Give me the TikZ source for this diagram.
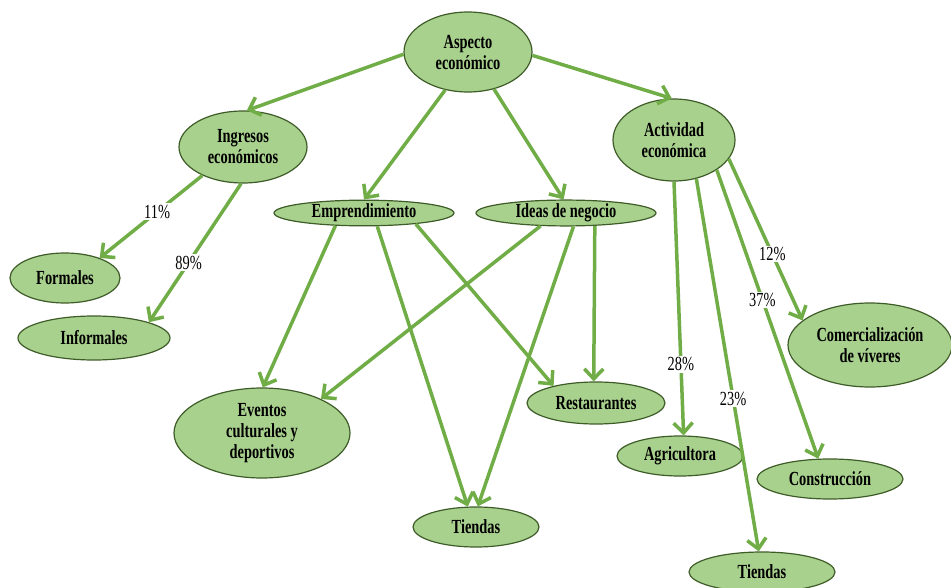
\documentclass[tikz,border=0pt]{standalone}
\usepackage{fontspec}
\setmainfont{Liberation Serif}[FakeStretch=0.72]
\usetikzlibrary{shapes.geometric,arrows.meta}
\definecolor{ovalfill}{RGB}{169,209,142}
\definecolor{ovalline}{RGB}{62,92,40}
\definecolor{linkgreen}{RGB}{112,173,71}
\begin{document}
\begin{tikzpicture}[x=1pt, y=-1pt, >={Straight Barb[length=10pt,width=19pt]},
    idea/.style={ellipse, draw=ovalline, fill=ovalfill, line width=1.2pt, inner sep=0pt, align=center,
        font=\fontsize{20}{21}\selectfont\bfseries},
    link/.style={->, draw=linkgreen, line width=3.5pt},
    pct/.style={fill=white, inner sep=1.5pt, font=\fontsize{20}{21}\selectfont}]
    \useasboundingbox (0,0) rectangle (951,588);
    % nodes
    \node[idea, minimum width=128pt, minimum height=80pt] (asp) at (468,52) {Aspecto\\econ\'omico};
    \node[idea, minimum width=128pt, minimum height=72pt] (ing) at (243,147) {Ingresos\\econ\'omicos};
    \node[idea, minimum width=122pt, minimum height=82pt] (act) at (674,140) {Actividad\\econ\'omica};
    \node[idea, minimum width=180pt, minimum height=22pt] (emp) at (364,213) {Emprendimiento};
    \node[idea, minimum width=180pt, minimum height=22pt] (neg) at (566,213) {Ideas de negocio};
    \node[idea, minimum width=110pt, minimum height=50pt] (form) at (65,278) {Formales};
    \node[idea, minimum width=152pt, minimum height=44pt] (inf) at (94,338) {Informales};
    \node[idea, minimum width=176pt, minimum height=90pt] (evt) at (262,433) {Eventos\\culturales y\\deportivos};
    \node[idea, minimum width=138pt, minimum height=42pt] (rest) at (596,403) {Restaurantes};
    \node[idea, minimum width=126pt, minimum height=40pt] (tie) at (476,527) {Tiendas};
    \node[idea, minimum width=126pt, minimum height=40pt] (agr) at (680,456) {Agricultora};
    \node[idea, minimum width=146pt, minimum height=40pt] (con) at (830,479) {Construcci\'on};
    \node[idea, minimum width=146pt, minimum height=40pt] (tie2) at (762,572) {Tiendas};
    \node[idea, minimum width=164pt, minimum height=84pt] (com) at (870,345) {Comercializaci\'on\\de v\'iveres};
    % top level
    \draw[link] (asp.182) -- (ing.84);
    \draw[link] (asp.357) -- (act.93);
    \draw[link] (asp.239) -- (emp.90);
    \draw[link] (asp.305) -- (neg.100);
    % ingresos
    \draw[link] (ing.215) -- node[pct, pos=.44] {11\%} (form.30);
    \draw[link] (ing.267) -- node[pct, pos=.57] {89\%} (inf.16);
    % emprendimiento / ideas de negocio
    \draw[link] (emp.204) -- (evt.89);
    \draw[link] (emp.315) -- (tie.112);
    \draw[link] (emp.348) -- (rest.158);
    \draw[link] (neg.207) -- (evt.30);
    \draw[link] (neg.299) -- (tie.85);
    \draw[link] (neg.336) -- (rest.96);
    % actividad
    \draw[link] (act.270) -- node[pct, pos=.72] {28\%} (agr.80);
    \draw[link] (act.300) -- node[pct, pos=.59] {23\%} (tie2.99);
    \draw[link] (act.325) -- node[pct, pos=.45] {37\%} (con.120);
    \draw[link] (act.341) -- node[pct, pos=.59] {12\%} (com.160);
\end{tikzpicture}
\end{document}
